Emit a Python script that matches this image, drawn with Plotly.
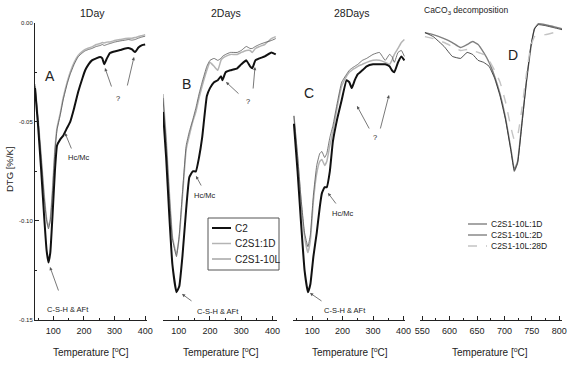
import plotly.graph_objects as go

# ---------------- data ----------------
T_A = [40, 50, 60, 70, 78, 84, 90, 97, 105, 112, 122, 132, 145, 155, 168, 181, 195, 204, 215, 226, 240, 253, 260, 266, 275, 285, 300, 318, 335, 345, 357, 367, 378, 390, 400]
A_C2 = [-0.033, -0.052, -0.074, -0.098, -0.115, -0.121, -0.116, -0.098, -0.075, -0.062, -0.059, -0.057, -0.053, -0.050, -0.043, -0.035, -0.028, -0.024, -0.021, -0.019, -0.018, -0.0173, -0.018, -0.021, -0.018, -0.0153, -0.0145, -0.0138, -0.013, -0.0128, -0.0135, -0.0148, -0.0125, -0.0113, -0.011]
A_C2S1_1D = [-0.031, -0.048, -0.067, -0.087, -0.099, -0.103, -0.099, -0.085, -0.064, -0.053, -0.046, -0.038, -0.030, -0.025, -0.020, -0.0165, -0.0145, -0.0135, -0.0128, -0.0122, -0.011, -0.0105, -0.010, -0.0102, -0.0098, -0.0097, -0.009, -0.0085, -0.008, -0.0078, -0.0078, -0.0075, -0.007, -0.0065, -0.006]
A_C2S1_10L = [-0.032, -0.049, -0.068, -0.088, -0.100, -0.104, -0.100, -0.086, -0.065, -0.054, -0.047, -0.039, -0.031, -0.026, -0.021, -0.0172, -0.0152, -0.0142, -0.0135, -0.013, -0.012, -0.0115, -0.011, -0.0115, -0.011, -0.0105, -0.0098, -0.0092, -0.0088, -0.0085, -0.0088, -0.0085, -0.0078, -0.0072, -0.0068]

T_B = [50, 60, 70, 80, 93, 102, 112, 124, 134, 145, 155, 165, 175, 190, 200, 213, 225, 235, 240, 250, 265, 287, 300, 316, 328, 335, 345, 358, 375, 396, 410]
B_C2 = [-0.045, -0.068, -0.097, -0.122, -0.136, -0.133, -0.118, -0.094, -0.078, -0.075, -0.075, -0.068, -0.058, -0.037, -0.033, -0.030, -0.029, -0.027, -0.029, -0.025, -0.024, -0.023, -0.021, -0.019, -0.022, -0.023, -0.019, -0.018, -0.017, -0.015, -0.016]
B_C2S1_1D = [-0.036, -0.058, -0.085, -0.108, -0.117, -0.108, -0.088, -0.064, -0.057, -0.050, -0.045, -0.038, -0.032, -0.024, -0.020, -0.022, -0.024, -0.019, -0.018, -0.017, -0.016, -0.016, -0.015, -0.014, -0.014, -0.015, -0.013, -0.012, -0.011, -0.008, -0.007]
B_C2S1_10L = [-0.038, -0.060, -0.087, -0.109, -0.118, -0.107, -0.086, -0.062, -0.055, -0.049, -0.043, -0.036, -0.030, -0.022, -0.019, -0.018, -0.019, -0.018, -0.017, -0.016, -0.015, -0.015, -0.014, -0.012, -0.013, -0.013, -0.012, -0.011, -0.010, -0.009, -0.008]

T_C = [40, 52, 63, 75, 86, 94, 104, 115, 125, 132, 141, 148, 158, 168, 183, 197, 213, 222, 230, 240, 250, 265, 279, 300, 321, 340, 354, 362, 370, 382, 393, 403]
C_C2 = [-0.051, -0.075, -0.100, -0.125, -0.136, -0.132, -0.118, -0.106, -0.093, -0.086, -0.083, -0.083, -0.075, -0.060, -0.048, -0.039, -0.029, -0.030, -0.033, -0.029, -0.026, -0.024, -0.022, -0.021, -0.021, -0.021, -0.022, -0.024, -0.025, -0.020, -0.017, -0.019]
C_C2S1_1D = [-0.047, -0.068, -0.090, -0.108, -0.116, -0.110, -0.090, -0.076, -0.070, -0.069, -0.072, -0.070, -0.062, -0.055, -0.042, -0.032, -0.027, -0.025, -0.024, -0.023, -0.022, -0.021, -0.020, -0.019, -0.019, -0.020, -0.021, -0.019, -0.016, -0.013, -0.010, -0.0085]
C_C2S1_10L = [-0.047, -0.067, -0.088, -0.106, -0.113, -0.107, -0.087, -0.072, -0.066, -0.065, -0.068, -0.066, -0.058, -0.052, -0.040, -0.030, -0.026, -0.024, -0.023, -0.022, -0.021, -0.019, -0.018, -0.016, -0.015, -0.019, -0.016, -0.017, -0.020, -0.015, -0.014, -0.017]

T_D = [555, 570, 590, 605, 620, 632, 642, 652, 662, 672, 682, 692, 702, 712, 718, 724, 732, 740, 748, 755, 762, 775, 790, 805]
D_1D = [-0.005, -0.006, -0.008, -0.010, -0.0125, -0.011, -0.0095, -0.011, -0.015, -0.020, -0.027, -0.036, -0.048, -0.064, -0.074, -0.070, -0.050, -0.030, -0.013, -0.003, -0.0005, -0.001, -0.002, -0.003]
D_2D = [-0.005, -0.007, -0.012, -0.017, -0.018, -0.015, -0.016, -0.019, -0.020, -0.022, -0.028, -0.037, -0.049, -0.065, -0.075, -0.071, -0.051, -0.030, -0.012, -0.003, -0.001, -0.0015, -0.0025, -0.0035]
D_28D = [-0.007, -0.008, -0.010, -0.012, -0.014, -0.0135, -0.014, -0.015, -0.016, -0.019, -0.024, -0.030, -0.040, -0.053, -0.059, -0.057, -0.043, -0.026, -0.012, -0.007, -0.0065, -0.006, -0.005, -0.004]

Y_TICKS = [0.00, -0.05, -0.10, -0.15]
Y_TICK_LABELS = ["0.00", "-0.05", "-0.10", "-0.15"]
X_TICKS_LOW = [100, 200, 300, 400]
X_TICKS_D = [550, 600, 650, 700, 750, 800]
PANEL_TITLES = ["1Day", "2Days", "28Days", "CaCO<sub>3</sub> decomposition"]
PANEL_LETTERS = ["A", "B", "C", "D"]
LEGEND_B = ["C2", "C2S1:1D", "C2S1-10L"]
LEGEND_D = ["C2S1-10L:1D", "C2S1-10L:2D", "C2S1-10L:28D"]

# ---------------- figure ----------------
W, H = 568, 365
FONT = "Liberation Sans, Arial, sans-serif"
TXT = "#222222"
C_BLACK = "#111111"
C_LIGHT = "#b4b4b4"
C_DARK = "#555555"
D_STYLES = [("#808080", 1.4, "solid"), ("#222222", 0.8, "solid"), ("#c4c4c4", 1.4, "dash")]
B_STYLES = [(C_BLACK, 2.0, "solid"), (C_LIGHT, 1.5, "solid"), (C_DARK, 0.8, "solid")]


def px(x):
    return x / W


def py(y):
    return 1 - y / H


fig = go.Figure()


def add_trace(x, y, xa, name, style):
    color, width, dash = style
    fig.add_trace(go.Scatter(
        x=x, y=y, xaxis=xa, yaxis="y", mode="lines", name=name, showlegend=False,
        line=dict(color=color, width=width, dash=dash, shape="spline", smoothing=0.35),
    ))


for xa, T, series in [("x", T_A, [A_C2, A_C2S1_1D, A_C2S1_10L]),
                      ("x2", T_B, [B_C2, B_C2S1_1D, B_C2S1_10L]),
                      ("x3", T_C, [C_C2, C_C2S1_1D, C_C2S1_10L])]:
    # draw grey curves first, black on top
    for idx in [1, 2, 0]:
        add_trace(T, series[idx], xa, LEGEND_B[idx], B_STYLES[idx])

for idx, vals in enumerate([D_1D, D_2D, D_28D]):
    add_trace(T_D, vals, "x4", LEGEND_D[idx], D_STYLES[idx])

y_top, y_bot = py(22.7), py(320)

xcommon = dict(
    showline=True, linecolor=TXT, linewidth=1, ticks="inside", ticklen=4, tickcolor=TXT,
    tickfont=dict(family=FONT, size=9, color=TXT), showgrid=False, zeroline=False,
    anchor="y", ticklabelstandoff=2,
    minor=dict(ticks="inside", ticklen=2, tickcolor=TXT, showgrid=False),
)

fig.update_layout(
    width=W, height=H,
    margin=dict(l=0, r=0, t=0, b=0, autoexpand=False),
    paper_bgcolor="white", plot_bgcolor="white",
    font=dict(family=FONT, color=TXT),
    showlegend=False,
    xaxis=dict(domain=[px(35), px(147)], range=[40, 406], tickvals=X_TICKS_LOW, minor_dtick=50, minor_tick0=0, **xcommon),
    xaxis2=dict(domain=[px(163), px(277)], range=[50, 414], tickvals=X_TICKS_LOW, minor_dtick=50, minor_tick0=0, **xcommon),
    xaxis3=dict(domain=[px(293), px(405)], range=[37, 405], tickvals=X_TICKS_LOW, minor_dtick=50, minor_tick0=0, **xcommon),
    xaxis4=dict(domain=[px(420), px(562)], range=[546, 805], tickvals=X_TICKS_D, minor_dtick=25, minor_tick0=0, **xcommon),
    yaxis=dict(
        domain=[y_bot, y_top], range=[-0.15, 0.0], anchor="x",
        tickvals=Y_TICKS, ticktext=Y_TICK_LABELS,
        showline=True, linecolor=TXT, linewidth=1, ticks="inside", ticklen=4, tickcolor=TXT,
        tickfont=dict(family=FONT, size=6, color=TXT), showgrid=False, zeroline=False,
        minor=dict(ticks="inside", ticklen=2, tickcolor=TXT, dtick=0.025, tick0=0, showgrid=False),
    ),
)

ann = []
shapes = []


def text(x, y, t, size, xanchor="center", angle=0):
    ann.append(dict(text=t, x=px(x), y=py(y), xref="paper", yref="paper",
                    xanchor=xanchor, yanchor="middle", textangle=angle,
                    showarrow=False, font=dict(family=FONT, size=size, color=TXT)))


# panel titles
for t, x, y, fs in zip(PANEL_TITLES, [92, 226, 352, 466], [13, 13, 13, 11], [10.5, 10.5, 10.5, 8.5]):
    text(x, y, t, fs)
# panel letters
for t, x, y in zip(PANEL_LETTERS, [50, 186, 309, 513], [76, 84, 93, 55]):
    text(x, y, t, 14)
# axis titles
for x in [91, 221, 350, 490]:
    text(x, 352, "Temperature [<sup>o</sup>C]", 10)
text(9, 170, "DTG [%/K]", 9.5, angle=-90)


def arrow(x0, y0, x1, y1):
    ann.append(dict(text="", x=px(x1), y=py(y1), xref="paper", yref="paper",
                    ax=x0 - x1, ay=y0 - y1, axref="pixel", ayref="pixel",
                    showarrow=True, arrowhead=2, arrowsize=0.8, arrowwidth=0.8, arrowcolor="#555"))


# Panel A
text(78, 157, "Hc/Mc", 7.5)
arrow(72, 150, 65, 133)
text(68, 309, "C-S-H &amp; AFt", 7.5)
arrow(59, 292, 50, 267)
text(118, 98, "?", 7.5)
arrow(112, 88, 105, 68)
arrow(127, 87, 134, 57)
# Panel B
text(204, 195, "Hc/Mc", 7.5)
arrow(202, 187, 196, 176)
text(218, 311, "C-S-H &amp; AFt", 7.5)
arrow(193, 302, 182, 294)
text(248, 102, "?", 7.5)
arrow(240, 95, 226, 82)
arrow(253, 90, 255, 67)
# Panel C
text(342, 213, "Hc/Mc", 7.5)
arrow(337, 205, 328, 193)
text(345, 310, "C-S-H &amp; AFt", 7.5)
arrow(323, 302, 310, 293)
text(375, 137, "?", 7.5)
arrow(370, 130, 357, 106)
arrow(380, 130, 389, 95)

# Legend for panel B (boxed)
shapes.append(dict(type="rect", xref="paper", yref="paper", x0=px(208), x1=px(279), y0=py(218), y1=py(270),
                   line=dict(color="#555", width=1), fillcolor="white", layer="above"))
for i, (name, st) in enumerate(zip(LEGEND_B, B_STYLES)):
    yy = 228 + i * 15.5
    shapes.append(dict(type="line", xref="paper", yref="paper", x0=px(212), x1=px(231), y0=py(yy), y1=py(yy),
                       line=dict(color=st[0], width=st[1], dash=st[2]), layer="above"))
    text(233, yy, name, 10, xanchor="left")

# Legend for panel D (no box)
for i, (name, st) in enumerate(zip(LEGEND_D, D_STYLES)):
    yy = 224 + i * 11
    shapes.append(dict(type="line", xref="paper", yref="paper", x0=px(468), x1=px(487), y0=py(yy), y1=py(yy),
                       line=dict(color=st[0], width=st[1], dash=st[2]), layer="above"))
    text(489, yy, name, 8.5, xanchor="left")

fig.update_layout(annotations=ann, shapes=shapes)
# remove the default page margin so the figure sits at the window's top-left corner
fig.write_html("out.html", config={"displayModeBar": False},
               post_script="document.body.style.margin='0';document.body.style.overflow='hidden';")
